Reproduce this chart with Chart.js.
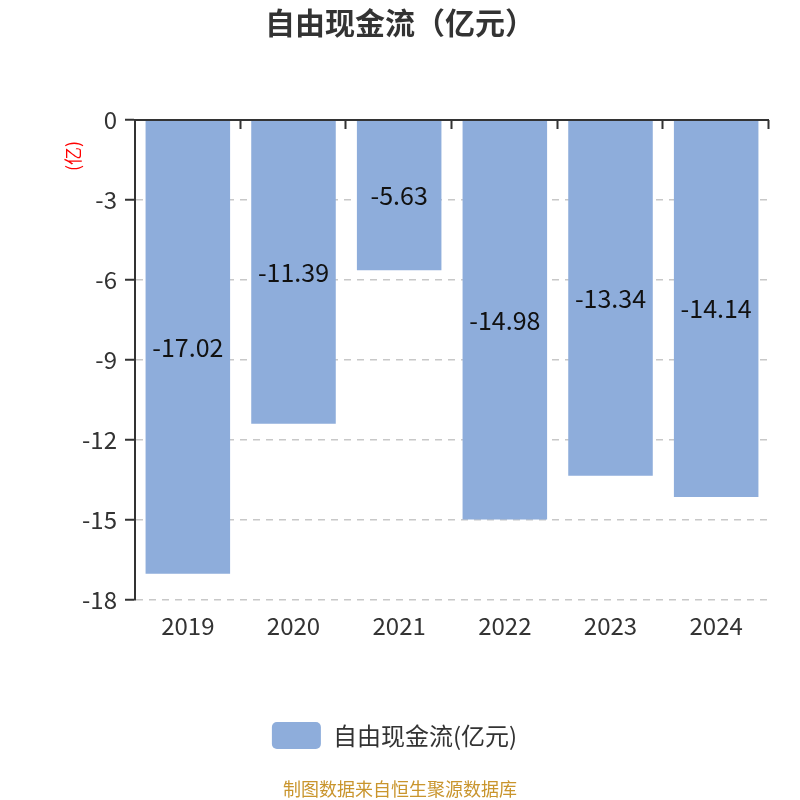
<!DOCTYPE html>
<html>
<head>
<meta charset="utf-8">
<script src="https://cdn.jsdelivr.net/npm/chart.js@4.4.1/dist/chart.umd.min.js"></script>
<style>
  html, body { margin: 0; padding: 0; background: #fff; }
  #wrap { width: 800px; height: 800px; }
</style>
</head>
<body>
<div id="wrap"><canvas id="chart" width="800" height="800"></canvas></div>
<script>
  var years = ["2019", "2020", "2021", "2022", "2023", "2024"];
  var freeCashFlow = [-17.02, -11.39, -5.63, -14.98, -13.34, -14.14];
  var yTicks = [0, -3, -6, -9, -12, -15, -18];

  var FONT = "'Noto Sans CJK SC', 'Noto Sans', sans-serif";
  var BAR_COLOR = "#8eaddb";

  // title, unit label and source line
  var decorPlugin = {
    id: "decor",
    afterDraw: function (chart) {
      var ctx = chart.ctx;
      ctx.save();
      ctx.textAlign = "center";
      ctx.textBaseline = "middle";
      ctx.fillStyle = "#333";
      ctx.font = "bold 30px " + FONT;
      ctx.fillText("自由现金流（亿元）", 400, 23);

      ctx.fillStyle = "#c9952d";
      ctx.font = "18px " + FONT;
      ctx.fillText("制图数据来自恒生聚源数据库", 400, 789);

      ctx.translate(73, 156);
      ctx.rotate(-Math.PI / 2);
      ctx.fillStyle = "#ff0000";
      ctx.font = "18px " + FONT;
      ctx.fillText("(亿)", 0, 0);
      ctx.restore();
    }
  };

  // x axis line drawn at value 0 (top), ticks pointing into the plot
  var topAxisPlugin = {
    id: "topAxis",
    afterDatasetsDraw: function (chart) {
      var ctx = chart.ctx;
      var x = chart.scales.x;
      var y0 = chart.scales.y.getPixelForValue(0);
      ctx.save();
      ctx.strokeStyle = "#333";
      ctx.lineWidth = 2;
      ctx.beginPath();
      ctx.moveTo(x.left, y0);
      ctx.lineTo(x.right, y0);
      var step = (x.right - x.left) / years.length;
      for (var i = 1; i <= years.length; i++) {
        var px = Math.round(x.left + step * i) - 0.5;
        ctx.moveTo(px, y0);
        ctx.lineTo(px, y0 + 9);
      }
      ctx.stroke();
      ctx.restore();
    }
  };

  var barLabelPlugin = {
    id: "barLabels",
    afterDatasetsDraw: function (chart) {
      var ctx = chart.ctx;
      var meta = chart.getDatasetMeta(0);
      ctx.save();
      ctx.fillStyle = "#111";
      ctx.font = "25px " + FONT;
      ctx.textAlign = "center";
      ctx.textBaseline = "middle";
      meta.data.forEach(function (bar, i) {
        var c = bar.getCenterPoint();
        ctx.fillText(freeCashFlow[i].toFixed(2), c.x, c.y);
      });
      ctx.restore();
    }
  };

  new Chart(document.getElementById("chart"), {
    type: "bar",
    data: {
      labels: years,
      datasets: [{
        label: "自由现金流(亿元)",
        data: freeCashFlow,
        backgroundColor: BAR_COLOR,
        borderWidth: 0,
        categoryPercentage: 1,
        barPercentage: 0.8
      }]
    },
    options: {
      responsive: false,
      animation: false,
      devicePixelRatio: 1,
      layout: { padding: { top: 120, right: 31, left: 20, bottom: 41 } },
      scales: {
        x: {
          position: "bottom",
          afterFit: function (scale) { scale.height = 112; },
          grid: { display: false, drawTicks: false },
          border: { display: false },
          ticks: { color: "#333", padding: 11, font: { size: 24, family: FONT } }
        },
        y: {
          min: -18,
          max: 0,
          afterBuildTicks: function (scale) {
            scale.ticks = yTicks.map(function (v) { return { value: v }; });
          },
          afterFit: function (scale) { scale.width = 115; },
          grid: {
            color: "#c8c8c8",
            lineWidth: 1.5,
            tickColor: "#333",
            tickLength: 10,
            tickWidth: 2
          },
          border: { display: true, color: "#333", width: 2, dash: [7, 6] },
          ticks: { color: "#333", padding: 8, font: { size: 24, family: FONT } }
        }
      },
      plugins: {
        title: { display: false },
        tooltip: { enabled: false },
        legend: {
          position: "bottom",
          labels: {
            color: "#333",
            font: { size: 24, family: FONT },
            boxWidth: 49,
            boxHeight: 27,
            useBorderRadius: true,
            borderRadius: 5,
            padding: 10
          }
        }
      }
    },
    plugins: [decorPlugin, topAxisPlugin, barLabelPlugin]
  });
</script>
</body>
</html>
